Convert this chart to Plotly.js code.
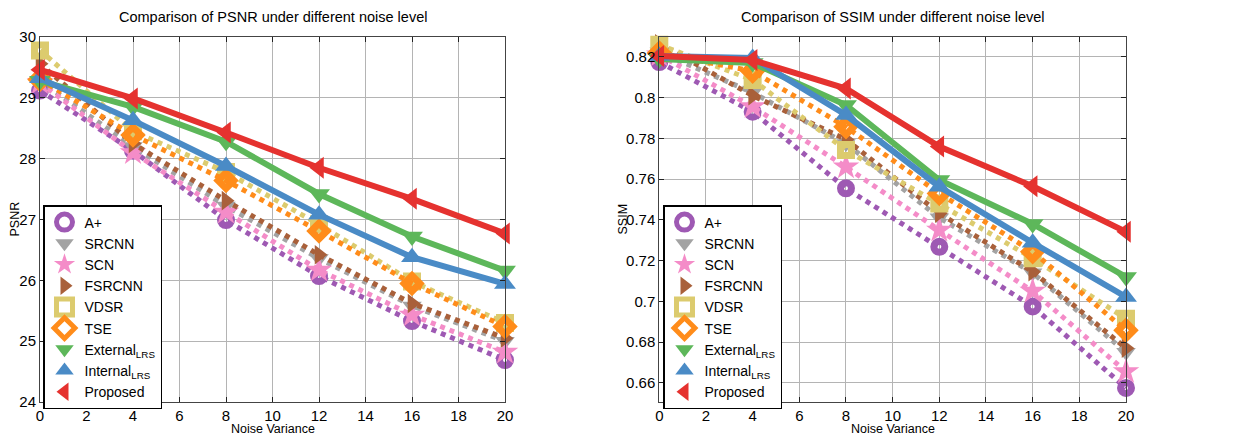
<!DOCTYPE html>
<html>
<head>
<meta charset="utf-8">
<script src="https://cdn.plot.ly/plotly-3.0.1.min.js"></script>
<style>html,body{margin:0;padding:0;background:#fff;}#chart{width:1233px;height:437px;}</style>
</head>
<body>
<div id="chart"></div>
<script>
// ---- data ----
const noiseVariance = [0, 4, 8, 12, 16, 20];
const methodNames = ["A+", "SRCNN", "SCN", "FSRCNN", "VDSR", "TSE", "External<sub>LRS</sub>", "Internal<sub>LRS</sub>", "Proposed"];

const psnrAplus    = [29.12, 28.13, 26.99, 26.07, 25.33, 24.69];
const psnrSRCNN    = [29.28, 28.20, 27.22, 26.36, 25.58, 25.00];
const psnrSCN      = [29.25, 28.10, 27.12, 26.17, 25.43, 24.82];
const psnrFSRCNN   = [29.56, 28.25, 27.31, 26.42, 25.62, 25.05];
const psnrVDSR     = [29.78, 28.45, 27.78, 26.92, 25.98, 25.30];
const psnrTSE      = [29.30, 28.39, 27.64, 26.81, 25.95, 25.24];
const psnrExternal = [29.28, 28.85, 28.28, 27.42, 26.72, 26.16];
const psnrInternal = [29.32, 28.63, 27.88, 27.08, 26.38, 25.94];
const psnrProposed = [29.46, 28.99, 28.43, 27.85, 27.34, 26.77];

const ssimAplus    = [0.8175, 0.7931, 0.7555, 0.7268, 0.6975, 0.6575];
const ssimSRCNN    = [0.8225, 0.8025, 0.7775, 0.7410, 0.7140, 0.6750];
const ssimSCN      = [0.8210, 0.7956, 0.7660, 0.7350, 0.7050, 0.6655];
const ssimFSRCNN   = [0.8265, 0.8010, 0.7795, 0.7433, 0.7146, 0.6770];
const ssimVDSR     = [0.8260, 0.8087, 0.7743, 0.7480, 0.7212, 0.6915];
const ssimTSE      = [0.8220, 0.8130, 0.7857, 0.7530, 0.7244, 0.6858];
const ssimExternal = [0.8190, 0.8170, 0.7964, 0.7596, 0.7380, 0.7120];
const ssimInternal = [0.8205, 0.8195, 0.7915, 0.7563, 0.7288, 0.7022];
const ssimProposed = [0.8205, 0.8185, 0.8045, 0.7760, 0.7565, 0.7342];

const psnrSeries = [psnrAplus, psnrSRCNN, psnrSCN, psnrFSRCNN, psnrVDSR, psnrTSE, psnrExternal, psnrInternal, psnrProposed];
const ssimSeries = [ssimAplus, ssimSRCNN, ssimSCN, ssimFSRCNN, ssimVDSR, ssimTSE, ssimExternal, ssimInternal, ssimProposed];

// ---- styles ----
const colors = ["#9e59b3", "#a3a3a3", "#f48cc8", "#a9603a", "#dccb6e", "#ff8c1a", "#5db75a", "#4a8bc6", "#e5322f"];
const symbols = ["circle-open", "triangle-down", "star", "triangle-right", "square-open", "diamond-open", "triangle-down", "triangle-up", "triangle-left"];
const sizes = [11, 17, 20, 17, 11, 12, 19, 19, 19];
const mlw = [7, 0, 0, 0, 7, 7, 0, 0, 0];
const dashes = ["dot", "dot", "dot", "dot", "dot", "dot", "solid", "solid", "solid"];
const lws = [5, 5, 5, 5, 5, 5, 6, 6, 6];

const traces = [];
function addSeries(series, xa, ya, leg) {
  series.forEach((vals, i) => {
    traces.push({
      type: "scatter", mode: "lines+markers", x: noiseVariance, y: vals,
      xaxis: xa, yaxis: ya, showlegend: false, cliponaxis: false, hoverinfo: "skip",
      line: {color: colors[i], width: lws[i], dash: dashes[i]},
      marker: {symbol: symbols[i], size: sizes[i], color: colors[i], line: {color: colors[i], width: mlw[i]}}
    });
  });
  methodNames.forEach((name, i) => {
    traces.push({
      type: "scatter", mode: "markers", x: [null], y: [null], name: name,
      xaxis: xa, yaxis: ya, legend: leg, hoverinfo: "skip",
      marker: {symbol: symbols[i], size: 20, color: colors[i], line: {color: colors[i], width: mlw[i] ? 5 : 0}}
    });
  });
}
addSeries(psnrSeries, "x", "y", "legend");
addSeries(ssimSeries, "x2", "y2", "legend2");

const axCommon = {
  ticks: "inside", ticklen: 5, tickcolor: "#222", showline: true, linecolor: "#444", linewidth: 1,
  mirror: "ticks", showgrid: true, gridcolor: "#b4b4b4", gridwidth: 1, zeroline: false,
  tickfont: {family: "Liberation Sans, Arial", size: 15, color: "#000"}
};
const yDomain = [1 - 402 / 437, 1 - 37 / 437];
const legCommon = {
  xanchor: "left", yanchor: "top", bgcolor: "#fff", bordercolor: "#000", borderwidth: 1.5,
  font: {family: "Liberation Sans, Arial", size: 14, color: "#000"}, tracegroupgap: 0, itemwidth: 30
};

const layout = {
  width: 1233, height: 437, margin: {l: 0, r: 0, t: 0, b: 0},
  paper_bgcolor: "#fff", plot_bgcolor: "#fff", hovermode: false,
  font: {family: "Liberation Sans, Arial", color: "#000"},
  xaxis: Object.assign({}, axCommon, {domain: [40 / 1233, 505 / 1233], range: [0, 20], dtick: 2, tick0: 0, anchor: "y"}),
  yaxis: Object.assign({}, axCommon, {domain: yDomain, range: [24, 30], dtick: 1, tick0: 24, anchor: "x"}),
  xaxis2: Object.assign({}, axCommon, {domain: [659.3 / 1233, 1126 / 1233], range: [0, 20], dtick: 2, tick0: 0, anchor: "y2"}),
  yaxis2: Object.assign({}, axCommon, {domain: yDomain, range: [0.6506, 0.8298], dtick: 0.02, tick0: 0.66, anchor: "x2"}),
  legend: Object.assign({}, legCommon, {x: 43 / 1233, y: 1 - 205 / 437}),
  legend2: Object.assign({}, legCommon, {x: 663 / 1233, y: 1 - 205 / 437}),
  annotations: [
    {text: "Comparison of PSNR under different noise level", xref: "paper", yref: "paper", x: 272.5 / 1233, y: 1 - 17 / 437,
     xanchor: "center", yanchor: "middle", showarrow: false, font: {size: 14.5, family: "Liberation Sans, Arial"}},
    {text: "Comparison of SSIM under different noise level", xref: "paper", yref: "paper", x: 892.6 / 1233, y: 1 - 17 / 437,
     xanchor: "center", yanchor: "middle", showarrow: false, font: {size: 14.5, family: "Liberation Sans, Arial"}},
    {text: "Noise Variance", xref: "paper", yref: "paper", x: 272.5 / 1233, y: 1 - 429 / 437,
     xanchor: "center", yanchor: "middle", showarrow: false, font: {size: 12.5, family: "Liberation Sans, Arial"}},
    {text: "Noise Variance", xref: "paper", yref: "paper", x: 892.6 / 1233, y: 1 - 429 / 437,
     xanchor: "center", yanchor: "middle", showarrow: false, font: {size: 12.5, family: "Liberation Sans, Arial"}},
    {text: "PSNR", xref: "paper", yref: "paper", x: 14 / 1233, y: 1 - 219.5 / 437, textangle: -90,
     xanchor: "center", yanchor: "middle", showarrow: false, font: {size: 12.5, family: "Liberation Sans, Arial"}},
    {text: "SSIM", xref: "paper", yref: "paper", x: 622 / 1233, y: 1 - 219.5 / 437, textangle: -90,
     xanchor: "center", yanchor: "middle", showarrow: false, font: {size: 12.5, family: "Liberation Sans, Arial"}}
  ]
};

Plotly.newPlot("chart", traces, layout, {staticPlot: true, displayModeBar: false});
</script>
</body>
</html>
